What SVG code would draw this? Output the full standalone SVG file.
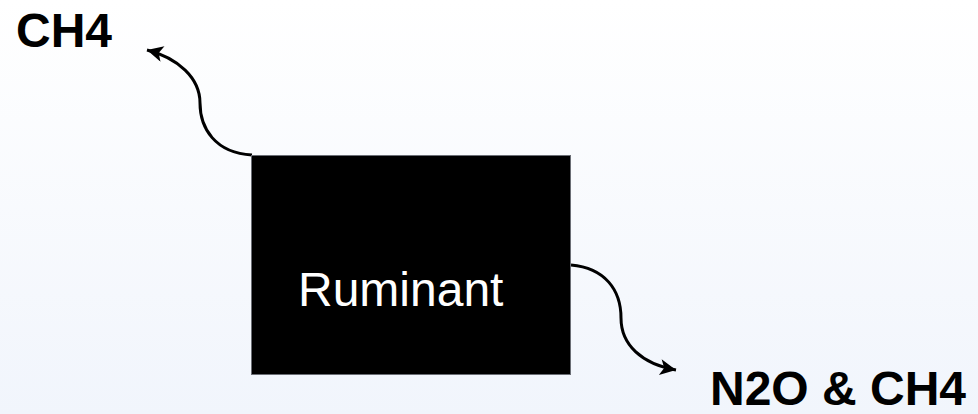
<svg xmlns="http://www.w3.org/2000/svg" width="978" height="414" viewBox="0 0 978 414">
  <defs>
    <linearGradient id="bg" x1="0" y1="0" x2="0" y2="1">
      <stop offset="0" stop-color="#ffffff"/>
      <stop offset="1" stop-color="#f1f5fc"/>
    </linearGradient>
    <marker id="arrow" viewBox="0 0 10 10" refX="10" refY="5" markerWidth="18" markerHeight="16" markerUnits="userSpaceOnUse" orient="auto">
      <path d="M0,0 L10,5 L0,10 L2.5,5 z" fill="#000"/>
    </marker>
  </defs>
  <style>
    .label { font-family: "Liberation Sans", Arial, sans-serif; font-weight: bold; font-size: 48px; fill: #000; }
    .node-text { font-family: "Liberation Sans", Arial, sans-serif; font-size: 48px; fill: #fff; }
    .conn { fill: none; stroke: #000; stroke-width: 3; marker-end: url(#arrow); }
  </style>

  <rect width="978" height="414" fill="url(#bg)"/>

  <g id="connectors">
    <path class="conn" d="M252,155 C215,153 200,128 200,103 C200,78 178,58 147,50"/>
    <path class="conn" d="M571,265 C605,268 621,290 621,318 C621,345 642,364 676,370"/>
  </g>

  <g id="ruminant">
    <rect x="251.5" y="155.5" width="319" height="219" fill="#000" stroke="#6b6e75" stroke-width="1"/>
    <text class="node-text" x="298" y="306">Ruminant</text>
  </g>

  <g id="ch4">
    <text class="label" x="16" y="47">CH4</text>
  </g>

  <g id="n2o-ch4">
    <text class="label" x="710" y="405">N2O &amp; CH4</text>
  </g>
</svg>
